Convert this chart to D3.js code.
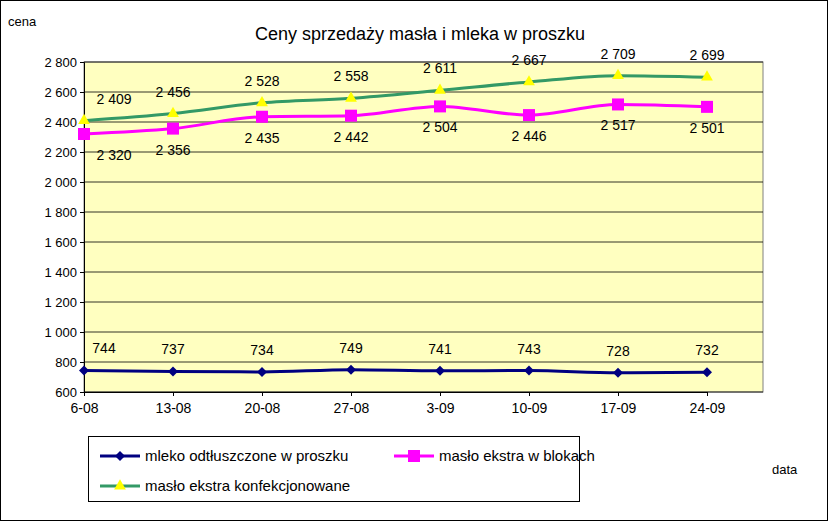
<!DOCTYPE html><html><head><meta charset="utf-8"><script src="https://cdn.jsdelivr.net/npm/d3@7"></script>
<style>body{margin:0}svg{font-family:"Liberation Sans",Arial,sans-serif}</style></head><body>
<script>
const categories=["6-08","13-08","20-08","27-08","3-09","10-09","17-09","24-09"];
const mleko=[744,737,734,749,741,743,728,732];
const blok=[2320,2356,2435,2442,2504,2446,2517,2501];
const konf=[2409,2456,2528,2558,2611,2667,2709,2699];
const yTicks=d3.range(600,2801,200);
const W=828,H=521;
const svg=d3.select("body").append("svg").attr("width",W).attr("height",H);
svg.append("rect").attr("x",0.5).attr("y",0.5).attr("width",W-1).attr("height",H-1).attr("fill","#fff").attr("stroke","#000");
const L=84,R=763,T=62,B=392;
const x=d3.scalePoint().domain(categories).range([84,707]);
const y=d3.scaleLinear().domain([600,2800]).range([B,T]);
svg.append("rect").attr("x",L).attr("y",T).attr("width",R-L).attr("height",B-T).attr("fill","#FFFFC0").attr("stroke","#808080");
svg.append("g").selectAll("line").data(yTicks).join("line").attr("x1",L).attr("x2",R).attr("y1",d=>y(d)).attr("y2",d=>y(d)).attr("stroke","#000").attr("stroke-width",0.8);
const fmt=d=>d>=1000?d3.format(",")(d).replace(",","\u00a0"):String(d);
const ya=svg.append("g").attr("transform",`translate(${L},0)`).call(d3.axisLeft(y).tickValues(yTicks).tickSize(4).tickFormat(fmt));
const xa=svg.append("g").attr("transform",`translate(0,${B})`).call(d3.axisBottom(x).tickSize(4).tickPadding(7));
[ya,xa].forEach(a=>{a.selectAll("text").attr("font-size",13).attr("fill","#000").attr("font-family","Liberation Sans, Arial");a.select(".domain").attr("stroke","#000");a.selectAll("line").attr("stroke","#000")});
xa.selectAll("text").attr("font-size",14);
const line=d3.line().x((d,i)=>x(categories[i])).y(d=>y(d)).curve(d3.curveMonotoneX);
const series=[{d:konf,c:"#339966",m:"tri",lab:-1,t:"masło ekstra konfekcjonowane"},{d:blok,c:"#FF00FF",m:"sq",lab:1,t:"masło ekstra w blokach"},{d:mleko,c:"#000080",m:"dia",lab:-1,t:"mleko odtłuszczone w proszku"}];
function marker(g,s,cx,cy){
 if(s.m=="tri")g.append("path").attr("d",d3.symbol(d3.symbolTriangle,60)()).attr("transform",`translate(${cx},${cy})`).attr("fill","#FFFF00");
 else if(s.m=="sq")g.append("rect").attr("x",cx-6).attr("y",cy-6).attr("width",12).attr("height",12).attr("fill","#FF00FF");
 else g.append("path").attr("d","M0,-5L5,0L0,5L-5,0Z").attr("transform",`translate(${cx},${cy})`).attr("fill","#000080");
}
series.forEach(s=>{
 svg.append("path").attr("d",line(s.d)).attr("fill","none").attr("stroke",s.c).attr("stroke-width",3);
 const g=svg.append("g");
 s.d.forEach((v,i)=>{marker(g,s,x(categories[i]),y(v));
  g.append("text").attr("x",x(categories[i])+(i==0?(s.m=="dia"?20:30):0)).attr("y",y(v)+(s.lab<0?-17:26)).attr("text-anchor","middle").attr("font-size",14).text(fmt(v));});
});
svg.append("text").attr("x",420).attr("y",40).attr("text-anchor","middle").attr("font-size",18).text("Ceny sprzedaży masła i mleka w proszku");
svg.append("text").attr("x",8).attr("y",26).attr("font-size",13).text("cena");
svg.append("text").attr("x",772).attr("y",474).attr("font-size",13).text("data");
svg.append("rect").attr("x",88.5).attr("y",436.5).attr("width",491).attr("height",65).attr("fill","#fff").attr("stroke","#000");
const leg=[{s:series[2],x:100,y:456},{s:series[1],x:394,y:456},{s:series[0],x:100,y:486}];
leg.forEach(o=>{svg.append("line").attr("x1",o.x).attr("x2",o.x+40).attr("y1",o.y).attr("y2",o.y).attr("stroke",o.s.c).attr("stroke-width",3);
 marker(svg,o.s,o.x+20,o.y);
 svg.append("text").attr("x",o.x+45).attr("y",o.y+5).attr("font-size",15).text(o.s.t);});
</script></body></html>
